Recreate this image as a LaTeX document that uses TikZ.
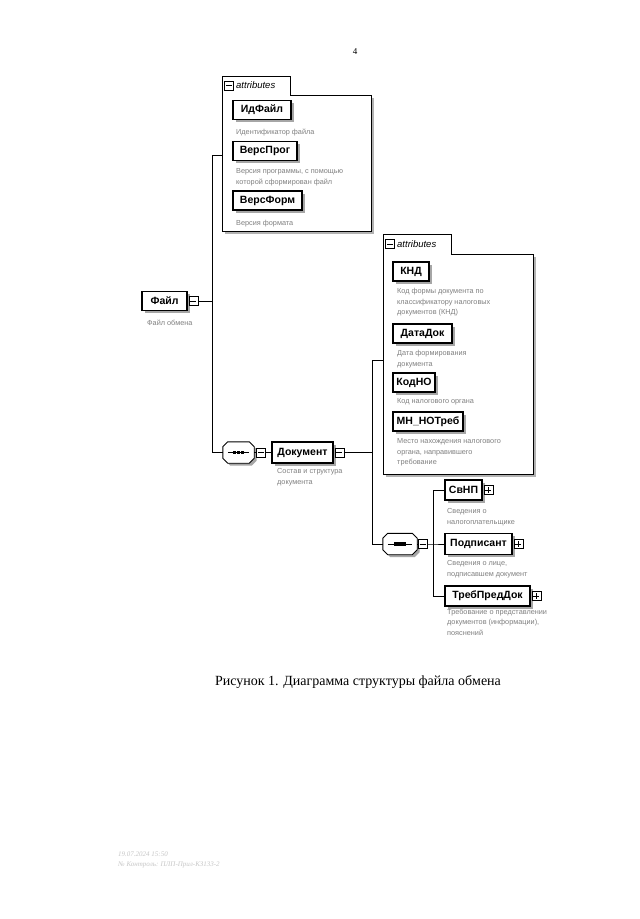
\documentclass[tikz,border=0pt]{standalone}
\usepackage{fontspec}
\setmainfont{Liberation Serif}
\newfontfamily\arial{Liberation Sans}
\usetikzlibrary{shadows,calc}

\newcommand\seqpath[2]{($(#1.north west)+(5+#2,#2)$) -- ($(#1.north east)+(-5+#2,#2)$) -- ($(#1.north east)+(#2,5+#2)$) -- ($(#1.south east)+(#2,-5+#2)$) -- ($(#1.south east)+(-5+#2,#2)$) -- ($(#1.south west)+(5+#2,#2)$) -- ($(#1.south west)+(#2,-5+#2)$) -- ($(#1.north west)+(#2,5+#2)$) -- cycle}
\newcommand\seqsym[1]{%
  \fill[black!35] \seqpath{#1}{2.5};
  \draw[conn,fill=white] \seqpath{#1}{0};
  \draw[conn] ($(#1.west)+(5,0)$) -- ($(#1.east)+(-5,0)$);
  \fill ($(#1.center)+(-5.6,-1.6)$) rectangle ($(#1.center)+(-2.4,1.6)$);
  \fill ($(#1.center)+(-1.6,-1.6)$) rectangle ($(#1.center)+(1.6,1.6)$);
  \fill ($(#1.center)+(2.4,-1.6)$) rectangle ($(#1.center)+(5.6,1.6)$);
}

\tikzset{
  elem/.style={draw, fill=white, font=\arial\bfseries\fontsize{10.5}{12}\selectfont, inner sep=0pt,
    minimum height=19pt, line width=1.1pt,
    general shadow={fill=black!35, shadow xshift=2.5pt, shadow yshift=-2.5pt}},
  desc/.style={anchor=north west, align=left, inner sep=0pt, text=black!50,
    font=\arial\fontsize{7.3}{10.5}\selectfont},
  conn/.style={line width=0.9pt},
  sgn/.style={draw, fill=white, minimum width=9pt, minimum height=9pt, inner sep=0pt, line width=0.7pt},
  minus/.style={sgn, path picture={\draw[line width=0.7pt] ($(path picture bounding box.west)+(1.5pt,0)$) -- ($(path picture bounding box.east)+(-1.5pt,0)$);}},
  plus/.style={sgn, path picture={\draw[line width=0.7pt] ($(path picture bounding box.west)+(1.5pt,0)$) -- ($(path picture bounding box.east)+(-1.5pt,0)$) ($(path picture bounding box.north)+(0,-1.5pt)$) -- ($(path picture bounding box.south)+(0,1.5pt)$);}},
  attrlbl/.style={anchor=west, inner sep=0pt, font=\arial\itshape\fontsize{9.5}{10}\selectfont},
  boxshade/.style={black!30, line width=2pt}
}

\begin{document}
\begin{tikzpicture}[x=1pt,y=-1pt]
\useasboundingbox (0,0) rectangle (640,919);
\fill[white] (0,0) rectangle (640,919);

% page number
\node[font=\fontsize{9}{10}\selectfont] (pg) at (355,52) {4};

% ---------- attributes box 1 ----------
\node[minimum width=149pt, minimum height=136pt, anchor=north west, inner sep=0pt] (attr1) at (222,95) {};
\draw[boxshade] ($(attr1.north east)+(2,3)$) -- ($(attr1.south east)+(2,2)$) -- ($(attr1.south west)+(3,2)$);
\draw[conn, fill=white] (attr1.south west) -- ($(attr1.north west)+(0,-19)$) -- ($(attr1.north west)+(68,-19)$) -- ($(attr1.north west)+(68,0)$) -- (attr1.north east) -- (attr1.south east) -- cycle;
\node[minus] (a1m) at (229,85.5) {};
\node[attrlbl] (a1t) at (236,85.5) {attributes};

\node[elem, minimum width=58pt] (idf) at (262,110) {ИдФайл};
\node[desc] (idfd) at (236,128.5) {Идентификатор файла};
\node[elem, minimum width=64pt] (vprog) at (265,151) {ВерсПрог};
\node[desc] (vprogd) at (236,168.5) {Версия программы, с помощью\\которой сформирован файл};
\node[elem, minimum width=69pt] (vform) at (267.5,200.5) {ВерсФорм};
\node[desc] (vformd) at (236,220.5) {Версия формата};

% ---------- root element ----------
\node[elem, minimum width=45pt] (file) at (164.5,301) {Файл};
\node[minus, anchor=west] (fileM) at ($(file.east)+(1,0)$) {};
\node[desc] (filed) at (147,319.5) {Файл обмена};

\coordinate (jf) at (212,301);
\coordinate (jA1) at (212,155);
\coordinate (jS1) at (212,452.5);
\draw[conn] (fileM.east) -- (jf);
\draw[conn] (jA1) -- (jS1);
\draw[conn] (jA1) -- (jA1 -| attr1.west);

% ---------- sequence 1 and Документ ----------
\node[minimum width=31pt, minimum height=21pt, inner sep=0pt] (seq1) at (238.5,452.5) {};
\seqsym{seq1}
\node[minus] (seq1M) at (261,452.5) {};
\draw[conn] (jS1) -- (seq1.west);
\draw[conn] (seq1.east) -- (seq1M.west);

\node[elem, minimum width=61pt, minimum height=21pt] (doc) at (302.5,452.5) {Документ};
\node[minus, anchor=west] (docM) at ($(doc.east)+(1,0)$) {};
\node[desc] (docd) at (277,468.5) {Состав и структура\\документа};
\draw[conn] (seq1M.east) -- (doc.west);

\coordinate (jD) at (372,452.5);
\coordinate (jA2) at (372,360);
\coordinate (jS2) at (372,544);
\draw[conn] (docM.east) -- (jD);
\draw[conn] (jA2) -- (jS2);

% ---------- attributes box 2 ----------
\node[minimum width=150pt, minimum height=220pt, anchor=north west, inner sep=0pt] (attr2) at (383,254) {};
\draw[boxshade] ($(attr2.north east)+(2,3)$) -- ($(attr2.south east)+(2,2)$) -- ($(attr2.south west)+(3,2)$);
\draw[conn, fill=white] (attr2.south west) -- ($(attr2.north west)+(0,-20)$) -- ($(attr2.north west)+(68,-20)$) -- ($(attr2.north west)+(68,0)$) -- (attr2.north east) -- (attr2.south east) -- cycle;
\node[minus] (a2m) at (390,244) {};
\node[attrlbl] (a2t) at (397,244) {attributes};
\draw[conn] (jA2) -- (jA2 -| attr2.west);

\node[elem, minimum width=36pt] (knd) at (411,271.5) {КНД};
\node[desc] (kndd) at (397,288.5) {Код формы документа по\\классификатору налоговых\\документов (КНД)};
\node[elem, minimum width=59pt] (datadok) at (422.5,333.5) {ДатаДок};
\node[desc] (datadokd) at (397,350.5) {Дата формирования\\документа};
\node[elem, minimum width=42pt] (kodno) at (414,382.5) {КодНО};
\node[desc] (kodnod) at (397,398.5) {Код налогового органа};
\node[elem, minimum width=70pt] (mnno) at (428,421.5) {МН\_НОТреб};
\node[desc] (mnnod) at (397,438.5) {Место нахождения налогового\\органа, направившего\\требование};

% ---------- sequence 2 and children ----------
\node[minimum width=34pt, minimum height=21pt, inner sep=0pt] (seq2) at (400,544) {};
\seqsym{seq2}
\node[minus] (seq2M) at (422.5,544) {};
\draw[conn] (jS2) -- (seq2.west);
\draw[conn] (seq2.east) -- (seq2M.west);

\coordinate (jSv) at (433,490);
\coordinate (jPd) at (433,544);
\coordinate (jTr) at (433,596);
\draw[conn] (jSv) -- (jTr);

\node[elem, minimum width=37pt, minimum height=20pt] (svnp) at (463.5,490) {СвНП};
\node[plus, anchor=west] (svnpP) at ($(svnp.east)+(1,0)$) {};
\node[desc] (svnpd) at (447,508.5) {Сведения о\\налогоплательщике};
\draw[conn] (jSv) -- (svnp.west);

\node[elem, minimum width=67pt, minimum height=21pt] (podp) at (478.5,544) {Подписант};
\node[plus, anchor=west] (podpP) at ($(podp.east)+(1,0)$) {};
\node[desc] (podpd) at (447,560.5) {Сведения о лице,\\подписавшем документ};
\draw[conn] (seq2M.east) -- (jPd) -- (podp.west);

\node[elem, minimum width=85pt, minimum height=20pt] (treb) at (487.5,596) {ТребПредДок};
\node[plus, anchor=west] (trebP) at ($(treb.east)+(1,0)$) {};
\node[desc] (trebd) at (447,608.5) {Требование о представлении\\документов (информации),\\пояснений};
\draw[conn] (jTr) -- (treb.west);

% ---------- caption ----------
\node[font=\fontsize{14}{16}\selectfont, inner sep=0pt] (cap) at (358,682) {Рисунок 1. Диаграмма структуры файла обмена};

% ---------- stamp ----------
\node[anchor=west, align=left, inner sep=0pt, text=black!22, font=\itshape\fontsize{7}{10.5}\selectfont] (stamp) at (118,860) {19.07.2024 15:50\\№ Контроль: ПЛП-Прил-КЗ133-2};
\end{tikzpicture}
\end{document}
